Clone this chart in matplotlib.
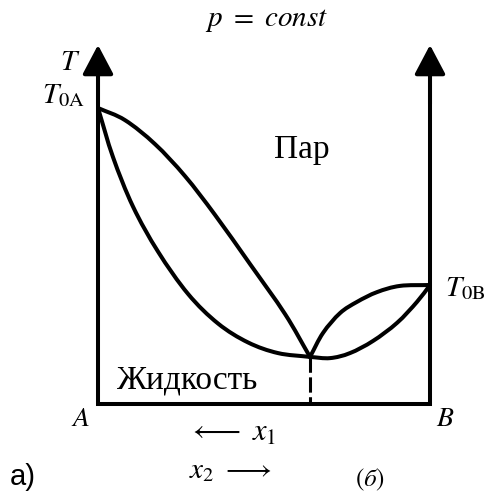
import numpy as np
import matplotlib
matplotlib.use("Agg")
import matplotlib.pyplot as plt
from matplotlib.path import Path
from matplotlib.patches import PathPatch

plt.rcParams['mathtext.fontset'] = 'stix'

# composition of B (0 = pure A, 1 = pure B) and temperature, arbitrary units
T0A = 100.0
T0B = 40.2
x_az = 0.6386
T_az = 15.9
T_top = 121.3   # arrow tips of the T axes

# vapour (dew) curve, A side
dew_a_x = [0.0, 0.0813, 0.1717, 0.2620, 0.3524, 0.4578, 0.5633, 0.6386]
dew_a_T = [100.0, 95.9, 87.8, 77.0, 63.9, 47.3, 30.4, 15.9]
# liquid (bubble) curve, A side
liq_a_x = [0.0, 0.0452, 0.1054, 0.1807, 0.2711, 0.3614, 0.4518, 0.5422, 0.6386]
liq_a_T = [100.0, 83.4, 66.7, 51.5, 37.2, 27.2, 20.8, 17.2, 15.9]
# vapour curve, B side
dew_b_x = [0.6386, 0.6777, 0.7289, 0.7801, 0.8404, 0.9096, 1.0]
dew_b_T = [15.9, 24.0, 30.7, 34.5, 37.8, 39.9, 40.2]
# liquid curve, B side
liq_b_x = [0.6386, 0.6988, 0.7590, 0.8283, 0.9006, 0.9608, 1.0]
liq_b_T = [15.9, 15.5, 17.2, 21.3, 27.4, 34.5, 40.2]


def smooth_path(xs, ys):
    # Catmull-Rom through the points, drawn as cubic bezier segments
    p = np.column_stack([xs, ys]).astype(float)
    ext = np.vstack([2 * p[0] - p[1], p, 2 * p[-1] - p[-2]])
    verts = [p[0]]
    codes = [Path.MOVETO]
    for i in range(1, len(ext) - 2):
        p0, p1, p2, p3 = ext[i - 1], ext[i], ext[i + 1], ext[i + 2]
        verts += [p1 + (p2 - p0) / 6, p2 - (p3 - p1) / 6, p2]
        codes += [Path.CURVE4] * 3
    return Path(verts, codes)


fig = plt.figure(figsize=(4.89, 4.93), dpi=100)
ax = fig.add_axes([0, 0, 1, 1])
ax.set_xlim(-0.2952, 1.1777)
ax.set_ylim(-30.07, 136.49)
ax.axis('off')

lw = 2.9
for xs, ys in [(dew_a_x, dew_a_T), (liq_a_x, liq_a_T),
               (dew_b_x, dew_b_T), (liq_b_x, liq_b_T)]:
    ax.add_patch(PathPatch(smooth_path(xs, ys), fill=False, lw=lw,
                           ec='black', capstyle='round', joinstyle='round'))

# frame: two T axes and composition axis
ax.plot([0, 0, 1, 1], [T_top - 6, 0, 0, T_top - 6], color='black', lw=lw,
        solid_joinstyle='miter', solid_capstyle='butt')
for xa in (0, 1):
    ax.annotate('', xy=(xa, T_top), xytext=(xa, T_top - 20),
                arrowprops=dict(arrowstyle='-|>,head_length=1.8,head_width=0.95',
                                mutation_scale=10, color='black', lw=lw,
                                shrinkA=0, shrinkB=0))

# azeotrope composition
ax.plot([x_az, x_az], [T_az, 0], color='black', lw=2.2,
        dashes=(5, 1.5), solid_capstyle='butt')

serif = 'Liberation Serif'
ax.text(0.509, 129.7, r'$p\ =\ const$', ha='center', va='center', fontsize=21)
ax.text(-0.084, 115.5, r'$T$', ha='center', va='center', fontsize=21)
ax.text(-0.039, 101.5, r'$T_{\mathrm{0A}}$', ha='right', va='baseline', fontsize=21)
ax.text(1.045, 36.5, r'$T_{\mathrm{0B}}$', ha='left', va='baseline', fontsize=21)
ax.text(0.614, 85.8, 'Пар', ha='center', va='center', fontsize=24, family=serif)
ax.text(0.271, 8.1, 'Жидкость', ha='center', va='center', fontsize=24, family=serif)
ax.text(-0.054, -4.7, r'$A$', ha='center', va='center', fontsize=20)
ax.text(1.045, -4.7, r'$B$', ha='center', va='center', fontsize=20)
ax.text(0.405, -9.5, r'$\longleftarrow\ x_1$', ha='center', va='center', fontsize=22)
ax.text(0.398, -22.3, r'$x_2\ \longrightarrow$', ha='center', va='center', fontsize=21)
ax.text(-0.265, -27.4, 'a)', ha='left', va='baseline', fontsize=21,
        family='Liberation Sans')
ax.text(0.819, -21.3, r'$(б)$', ha='center', va='top', fontsize=18, family=serif)

fig.savefig('out.png', dpi=100)
